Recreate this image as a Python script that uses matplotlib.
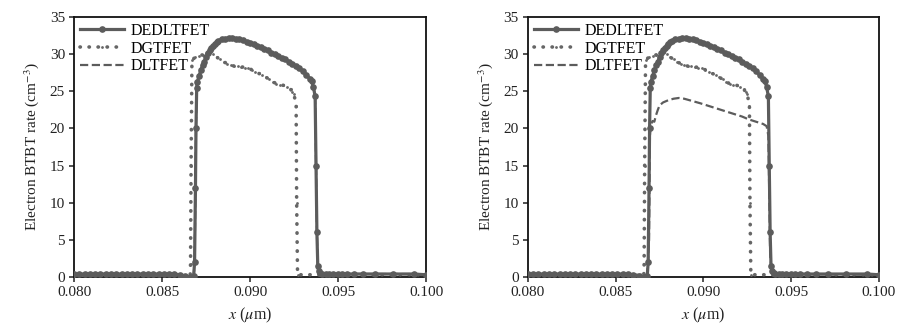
import matplotlib
matplotlib.use("Agg")
import matplotlib.pyplot as plt

plt.rcParams['font.family'] = ['Liberation Serif', 'DejaVu Serif']
plt.rcParams['mathtext.fontset'] = 'stix'

# DEDLTFET electron BTBT rate along the channel (same in both panels)
ded_x = [0.0800, 0.0803, 0.0806, 0.0809, 0.0812, 0.0815, 0.0818, 0.0821, 0.0824,
         0.0827, 0.0830, 0.0833, 0.0836, 0.0839, 0.0842, 0.0845, 0.0848, 0.0851,
         0.0854, 0.0857, 0.0860, 0.0863, 0.0866, 0.0868, 0.08685, 0.0869, 0.08693,
         0.08697, 0.0870, 0.0871, 0.0872, 0.0873, 0.0874, 0.0875, 0.0876, 0.0877,
         0.0878, 0.0879, 0.0880, 0.0881, 0.0882, 0.0884, 0.0886, 0.0888, 0.0890,
         0.0892, 0.0894, 0.0896, 0.0898, 0.0900, 0.0902, 0.0904, 0.0906, 0.0908,
         0.0910, 0.0912, 0.0914, 0.0916, 0.0918, 0.0920, 0.0922, 0.0924, 0.0926,
         0.0928, 0.0930, 0.0932, 0.0934, 0.0935, 0.0936, 0.0937, 0.09375, 0.0938,
         0.09385, 0.0939, 0.0940, 0.0941, 0.0943, 0.0945, 0.0947, 0.0950, 0.0952,
         0.0955, 0.0959, 0.0964, 0.0971, 0.0981, 0.0993, 0.1000]
ded_y = [0.4, 0.4, 0.4, 0.4, 0.4, 0.4, 0.4, 0.4, 0.4,
         0.4, 0.4, 0.4, 0.4, 0.4, 0.4, 0.4, 0.4, 0.4,
         0.4, 0.4, 0.3, 0.1, 0.0, 0.2, 2.0, 12.0, 20.0,
         25.5, 26.2, 27.0, 27.8, 28.5, 29.0, 29.6, 30.1, 30.5,
         30.8, 31.1, 31.3, 31.6, 31.8, 32.0, 32.1, 32.2, 32.2,
         32.1, 32.0, 31.9, 31.7, 31.5, 31.3, 31.1, 30.9, 30.7,
         30.5, 30.2, 30.0, 29.8, 29.5, 29.3, 29.0, 28.7, 28.4,
         28.1, 27.7, 27.2, 26.7, 26.4, 25.6, 24.3, 15.0, 6.0,
         1.5, 0.8, 0.5, 0.4, 0.4, 0.4, 0.4, 0.4, 0.4,
         0.4, 0.4, 0.4, 0.4, 0.4, 0.4, 0.3]

# DGTFET (same in both panels)
dg_x = [0.0800, 0.0866, 0.08662, 0.08665, 0.0867, 0.0869, 0.0871, 0.0873, 0.0875,
        0.0877, 0.0879, 0.0881, 0.0883, 0.0885, 0.0887, 0.0889, 0.0891, 0.0893,
        0.0895, 0.0897, 0.0899, 0.0901, 0.0903, 0.0905, 0.0907, 0.0909, 0.0911,
        0.0913, 0.0915, 0.0917, 0.0919, 0.0921, 0.0923, 0.0924, 0.0925, 0.09262,
        0.09265, 0.0927, 0.0940, 0.1000]
dg_y = [0.2, 0.2, 1.8, 15.0, 29.2, 29.6, 29.8, 29.9, 30.1,
        30.3, 30.0, 29.6, 29.3, 29.0, 28.7, 28.5, 28.4, 28.4,
        28.3, 28.2, 28.1, 27.9, 27.6, 27.4, 27.2, 26.9, 26.6,
        26.3, 26.0, 25.9, 25.8, 25.6, 25.3, 24.9, 24.6, 23.0,
        10.0, 0.3, 0.3, 0.3]

# DLTFET, panel (a): lies on top of the DEDLTFET curve
dl_a_x = ded_x
dl_a_y = ded_y

# DLTFET, panel (b)
dl_b_x = [0.0800, 0.0868, 0.0869, 0.08695, 0.0870, 0.0871, 0.0872, 0.0873, 0.0874,
          0.0875, 0.0877, 0.0880, 0.0883, 0.0886, 0.0889, 0.0892, 0.0895, 0.0898,
          0.0902, 0.0906, 0.0910, 0.0914, 0.0918, 0.0922, 0.0926, 0.0930, 0.0934,
          0.0936, 0.0937, 0.0938, 0.0939, 0.1000]
dl_b_y = [0.3, 0.3, 5.0, 19.0, 20.5, 21.0, 20.9, 21.8, 22.5,
          23.1, 23.5, 23.8, 24.0, 24.1, 24.0, 23.8, 23.6, 23.4,
          23.1, 22.8, 22.5, 22.2, 21.9, 21.6, 21.2, 20.9, 20.6,
          20.3, 19.0, 3.0, 0.4, 0.3]

xticks = [0.080, 0.085, 0.090, 0.095, 0.100]
yticks = [0, 5, 10, 15, 20, 25, 30, 35]
grey = '#5c5c5c'
txt = '#222222'

fig = plt.figure(figsize=(9.15, 3.34), dpi=100)
ax1 = fig.add_axes([0.0809, 0.1707, 0.3847, 0.7784])
ax2 = fig.add_axes([0.5770, 0.1707, 0.3836, 0.7784])

for ax, dlx, dly in [(ax1, dl_a_x, dl_a_y), (ax2, dl_b_x, dl_b_y)]:
    ax.plot(dlx, dly, color=grey, ls='--', lw=1.6, label='DLTFET', zorder=2)
    ax.plot(dg_x, dg_y, color='#666666', ls=(0, (0.1, 2.4)), lw=2.6,
            dash_capstyle='round', marker='o', ms=2.0, mec='none',
            label='DGTFET', zorder=3)
    ax.plot(ded_x, ded_y, color=grey, ls='-', lw=2.3, marker='o', ms=4.8,
            mec='none', label='DEDLTFET', zorder=4)

    ax.set_xlim(0.080, 0.100)
    ax.set_ylim(0, 35)
    ax.set_xticks(xticks)
    ax.set_xticklabels(['%.3f' % t for t in xticks])
    ax.set_yticks(yticks)
    ax.tick_params(direction='out', length=3.5, width=1.1, labelsize=11,
                   colors=txt, pad=3)
    for s in ax.spines.values():
        s.set_linewidth(1.3)
        s.set_color('#111111')
    ax.set_xlabel(r'$x$ ($\mu$m)', fontsize=11.5, color=txt, labelpad=5)
    ax.set_ylabel(r'Electron BTBT rate (cm$^{-3}$)', fontsize=11,
                  color=txt, labelpad=6)

    h, l = ax.get_legend_handles_labels()
    ax.legend(h[::-1], l[::-1], loc='upper left', frameon=False, fontsize=11.5,
              handlelength=2.8, handletextpad=0.4, labelspacing=0.12,
              borderpad=0.35, borderaxespad=0.0, numpoints=1)

fig.savefig('out.png', dpi=100)
